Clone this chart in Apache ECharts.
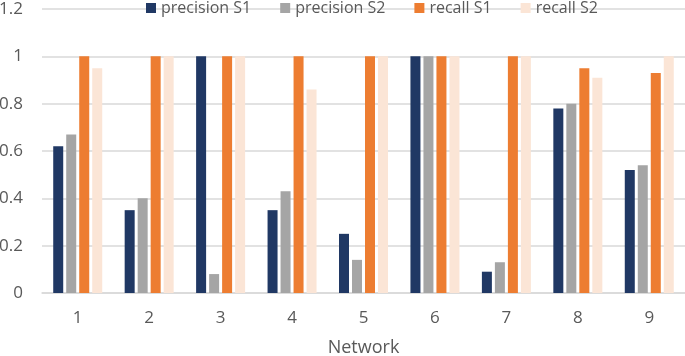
<!DOCTYPE html>
<html>
<head>
<meta charset="utf-8">
<script src="https://cdn.jsdelivr.net/npm/echarts@6/dist/echarts.min.js"></script>
<style>
  html, body { margin: 0; padding: 0; background: #fff; }
  #main { width: 685px; height: 356px; }
</style>
</head>
<body>
<div id="main"></div>
<script>
const categories = ["1", "2", "3", "4", "5", "6", "7", "8", "9"];
const precisionS1 = [0.62, 0.35, 1, 0.35, 0.25, 1, 0.09, 0.78, 0.52];
const precisionS2 = [0.67, 0.40, 0.08, 0.43, 0.14, 1, 0.13, 0.80, 0.54];
const recallS1 = [1, 1, 1, 1, 1, 1, 1, 0.95, 0.93];
const recallS2 = [0.95, 1, 1, 0.86, 1, 1, 1, 0.91, 1];

const seriesNames = ["precision S1", "precision S2", "recall S1", "recall S2"];
const seriesColors = ["#203864", "#a5a5a5", "#ed7d31", "#fbe5d6"];
const font = "'Open Sans', sans-serif";

function barSeries(name, data, color) {
  return {
    name: name,
    type: "bar",
    data: data,
    barWidth: 10,
    barGap: "30%",
    itemStyle: { color: color },
  };
}

addEventListener("load", () => {
  const chart = echarts.init(document.getElementById("main"));
  chart.setOption({
    animation: false,
    textStyle: { fontFamily: font },
    legend: {
      top: -5,
      left: 141,
      itemWidth: 10,
      itemHeight: 10,
      itemGap: 29,
      icon: "rect",
      textStyle: { color: "#595959", fontSize: 16, fontFamily: font },
      data: seriesNames,
    },
    grid: {
      left: 42,
      right: 0,
      top: 9,
      bottom: 63,
      containLabel: false,
      outerBoundsMode: "none",
    },
    xAxis: {
      type: "category",
      data: categories,
      name: "Network",
      nameLocation: "middle",
      nameGap: 46,
      nameTextStyle: { color: "#595959", fontSize: 18 },
      axisLine: { lineStyle: { color: "#d9d9d9", width: 1.5 } },
      axisTick: { show: false },
      axisLabel: { color: "#595959", fontSize: 17, margin: 17 },
    },
    yAxis: {
      type: "value",
      min: 0,
      max: 1.2,
      interval: 0.2,
      splitLine: { lineStyle: { color: "#d9d9d9", width: 1.5 } },
      axisLine: { show: false },
      axisLabel: {
        color: "#595959",
        fontSize: 17,
        margin: 19,
        formatter: (v) => String(Math.round(v * 10) / 10),
      },
    },
    series: [
      barSeries(seriesNames[0], precisionS1, seriesColors[0]),
      barSeries(seriesNames[1], precisionS2, seriesColors[1]),
      barSeries(seriesNames[2], recallS1, seriesColors[2]),
      barSeries(seriesNames[3], recallS2, seriesColors[3]),
    ],
  });
});
</script>
</body>
</html>
